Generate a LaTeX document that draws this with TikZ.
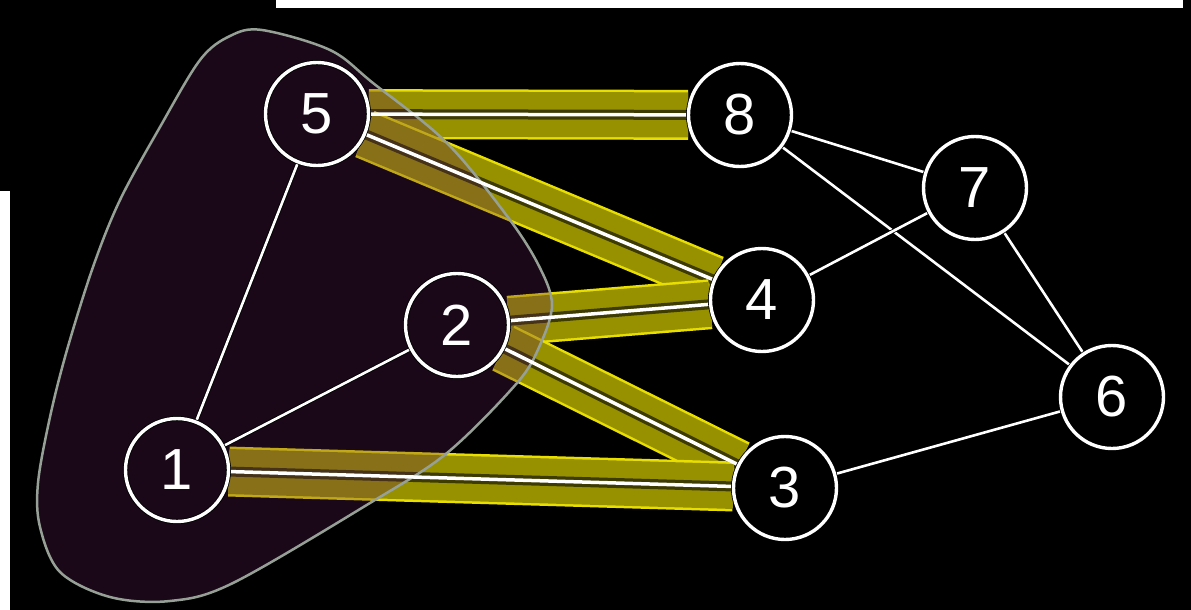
\documentclass[tikz,border=0pt]{standalone}
\usepackage{fontspec}
\setmainfont{Liberation Sans}
\pgfdeclarelayer{bg}
\pgfdeclarelayer{L1}
\pgfdeclarelayer{L2}
\pgfdeclarelayer{L3}
\pgfsetlayers{bg,L1,L2,L3,main}
\definecolor{bandY}{HTML}{E8DE00}
\definecolor{bandO}{HTML}{979100}
\definecolor{bandD}{HTML}{3E3B00}
\definecolor{blobC}{HTML}{5E1E58}
\definecolor{blobE}{HTML}{96A096}
\begin{document}
\begin{tikzpicture}[x=1pt,y=-1pt,
  vtx/.style={circle, draw=black, double=white, double distance=3.4pt, line width=0.8pt,
    minimum size=103pt, inner sep=0pt, text=white, font=\fontsize{58}{58}\selectfont},
  wedge/.style={draw=black, double=white, double distance=2.6pt, line width=0.8pt},
  bandouter/.style={draw=bandY, line width=50pt},
  bandmid/.style={draw=bandO, line width=45pt},
  banddark/.style={draw=bandD, line width=10pt},
  bandcore/.style={draw=white, line width=3.5pt},
  blob/.style={fill=blobC, fill opacity=0.28, draw=blobE, line width=2.5pt}]
\useasboundingbox (0,0) rectangle (1191,610);
\begin{pgfonlayer}{bg}
\fill[black] (0,0) rectangle (1191,610);
\fill[white] (276,0) rectangle (1183,8);
\fill[white] (0,191) rectangle (10,610);
\end{pgfonlayer}

\node[vtx] (n1) at (177,470) {1};
\node[vtx] (n2) at (457,325) {2};
\node[vtx] (n3) at (785,488) {3};
\node[vtx] (n4) at (762,300) {4};
\node[vtx] (n5) at (317,114) {5};
\node[vtx] (n6) at (1112,397) {6};
\node[vtx] (n7) at (975,188) {7};
\node[vtx] (n8) at (740,115) {8};

\begin{pgfonlayer}{L1}
\foreach \a/\b in {n5/n8, n5/n4, n2/n4, n2/n3, n1/n3} {
  \draw[bandouter] (\a) -- (\b);
  \draw[bandmid] (\a) -- (\b);
  \draw[banddark] (\a) -- (\b);
}
\end{pgfonlayer}

\begin{pgfonlayer}{L2}
\filldraw[blob] plot[smooth cycle, tension=0.55] coordinates {
  (262,30) (330,50) (373,83) (447,143) (510,220) (540,268) (552,305) (540,345)
  (517,383) (447,453) (370,503) (233,583) (170,601) (110,597) (60,572) (40,527)
  (38,483) (50,417) (67,350) (93,267) (120,200) (160,127) (200,60) (230,36)};
\end{pgfonlayer}

\begin{pgfonlayer}{L3}
\foreach \a/\b in {n5/n8, n5/n4, n2/n4, n2/n3, n1/n3} {
  \draw[bandcore] (\a) -- (\b);
}
\foreach \a/\b in {n5/n1, n1/n2, n8/n7, n8/n6, n7/n4, n7/n6, n6/n3} {
  \draw[wedge] (\a) -- (\b);
}
\end{pgfonlayer}
\end{tikzpicture}
\end{document}
